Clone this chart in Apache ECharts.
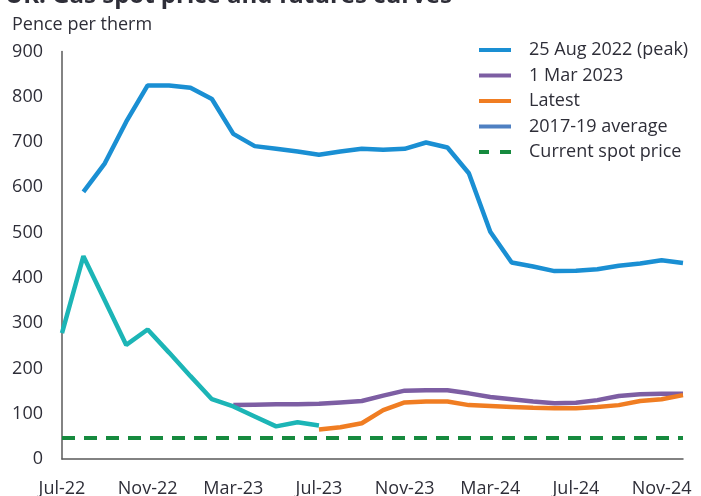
<!DOCTYPE html>
<html>
<head>
<meta charset="utf-8">
<script src="https://cdn.jsdelivr.net/npm/echarts@6/dist/echarts.min.js"></script>
<style>html,body{margin:0;padding:0;background:#fff}#c{width:701px;height:496px}</style>
</head>
<body>
<div id="c"></div>
<script>
const months = ['Jul-22','Aug-22','Sep-22','Oct-22','Nov-22','Dec-22','Jan-23','Feb-23','Mar-23','Apr-23','May-23','Jun-23','Jul-23','Aug-23','Sep-23','Oct-23','Nov-23','Dec-23','Jan-24','Feb-24','Mar-24','Apr-24','May-24','Jun-24','Jul-24','Aug-24','Sep-24','Oct-24','Nov-24','Dec-24'];
const spotHistory = [278,448,350,252,286,235,183,132,116,94,72,81,74];
const peakCurve = [null,590,653,745,825,825,820,795,718,691,685,679,672,679,685,683,685,699,688,631,502,434,425,415,416,419,427,432,439,433];
const mar2023Curve = [null,null,null,null,null,null,null,null,119,120,121,121,122,125,128,140,151,152,152,145,137,132,127,123,124,130,139,143,144,144];
const latestCurve = [null,null,null,null,null,null,null,null,null,null,null,null,65,70,79,108,125,127,127,119,117,115,113,112,112,115,119,128,132,141];
const avg2017to19 = [];
const currentSpot = 48;
const yTicks = [0,100,200,300,400,500,600,700,800,900];

const txt = '#2e2e38';
const font = 'Open Sans';
const chart = echarts.init(document.getElementById('c'));
chart.setOption({
  animation: false,
  title: [
    {text: 'UK: Gas spot price and futures curves', left: 0, top: -21,
     textStyle: {fontFamily: font, fontSize: 24, fontWeight: 'bold', color: txt}},
    {text: 'Pence per therm', left: 7, top: 11,
     textStyle: {fontFamily: font, fontSize: 18, fontWeight: 'normal', color: txt}}
  ],
  legend: {
    orient: 'vertical', left: 474, top: 35,
    itemWidth: 32, itemHeight: 4, itemGap: 5.5,
    textStyle: {fontFamily: font, fontSize: 18, color: txt, lineHeight: 20, padding: [0,0,0,13]},
    data: [
      {name: '25 Aug 2022 (peak)', icon: 'rect'},
      {name: '1 Mar 2023', icon: 'rect'},
      {name: 'Latest', icon: 'rect'},
      {name: '2017-19 average', icon: 'rect'},
      {name: 'Current spot price', icon: 'path://M0,0H10V4H0Z M21,0H32V4H21Z'}
    ]
  },
  grid: {left: 62, right: 18, top: 51.5, bottom: 37, containLabel: false, outerBoundsMode: 'none'},
  xAxis: {
    type: 'category', data: months, boundaryGap: false,
    axisLine: {lineStyle: {color: '#5a5a5a', width: 1.5}},
    axisTick: {show: false},
    axisLabel: {fontFamily: font, fontSize: 18, color: txt, margin: 21,
      interval: function(i){ return i % 4 === 0; }}
  },
  yAxis: {
    type: 'value', min: yTicks[0], max: yTicks[yTicks.length-1], interval: 100,
    axisLine: {show: true, lineStyle: {color: '#5a5a5a', width: 1.5}},
    axisTick: {show: false},
    splitLine: {show: false},
    axisLabel: {fontFamily: font, fontSize: 18, color: txt, margin: 19}
  },
  series: [
    {name: '25 Aug 2022 (peak)', type: 'line', data: peakCurve, showSymbol: false,
     lineStyle: {width: 4.5, color: '#1a8fd3'}, itemStyle: {color: '#1a8fd3'}},
    {name: '1 Mar 2023', type: 'line', data: mar2023Curve, showSymbol: false,
     lineStyle: {width: 4.5, color: '#7d5ea3'}, itemStyle: {color: '#7d5ea3'}},
    {name: 'Latest', type: 'line', data: latestCurve, showSymbol: false,
     lineStyle: {width: 4.5, color: '#f07d22'}, itemStyle: {color: '#f07d22'}},
    {name: '2017-19 average', type: 'line', data: avg2017to19, showSymbol: false,
     lineStyle: {width: 4.5, color: '#4f80c2'}, itemStyle: {color: '#4f80c2'}},
    {name: 'Current spot price', type: 'line', data: [], showSymbol: false,
     lineStyle: {width: 4, color: '#168a3e', type: 'dashed'}, itemStyle: {color: '#168a3e'},
     markLine: {symbol: 'none', silent: true, label: {show: false},
       lineStyle: {color: '#168a3e', width: 4, type: [13, 9]},
       data: [[{coord: [0, currentSpot]}, {coord: [29, currentSpot]}]]}},
    {name: 'Spot price', type: 'line', data: spotHistory, showSymbol: false,
     lineStyle: {width: 4.5, color: '#1cb5b6'}, itemStyle: {color: '#1cb5b6'}}
  ]
});
</script>
</body>
</html>
